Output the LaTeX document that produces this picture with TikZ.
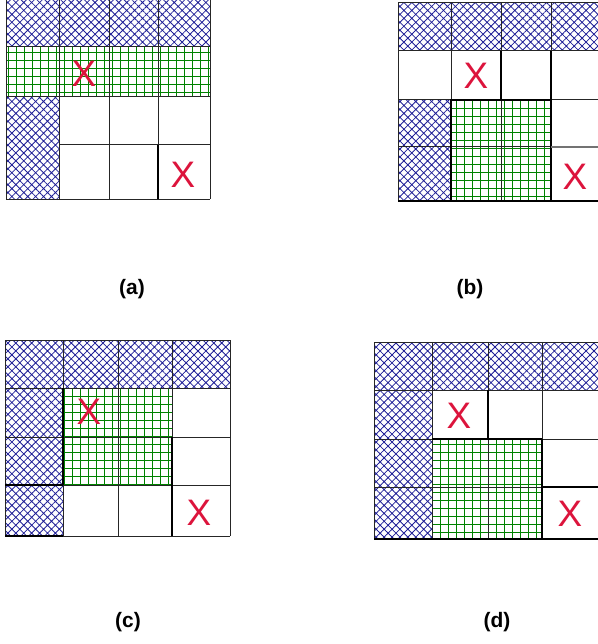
\documentclass[tikz,border=0pt]{standalone}
\usepackage{fontspec}
\setmainfont{Liberation Sans}
\usetikzlibrary{patterns.meta}
\definecolor{hatchblue}{RGB}{30,30,150}
\definecolor{gridgreen}{RGB}{0,130,0}
\definecolor{markred}{RGB}{220,20,60}
\begin{document}
\begin{tikzpicture}[x=1bp, y=-1bp,
  bluefill/.style={pattern={Hatch[angle=45,distance=5.6bp,line width=0.8bp]}, pattern color=hatchblue},
  greenfill/.style={pattern={Hatch[angle=0,distance=8bp,line width=0.8bp]}, pattern color=gridgreen},
  cell/.style={draw=black!85, line width=1bp},
  heavy/.style={draw=black, line width=1.7bp},
  xmark/.style={text=markred, font=\fontsize{37}{37}\selectfont, inner sep=0pt},
  caption/.style={font=\fontsize{21}{24}\selectfont\bfseries, inner sep=0pt}]
\useasboundingbox (0,0) rectangle (598,644);
\clip (0,0) rectangle (598,644);
% (a)
\fill[bluefill] (6,-3) rectangle (210,47) (6,97) rectangle (59,199);
\fill[greenfill] (6,47) rectangle (210,97);
\foreach \x in {6,59,109,158,210} \draw[cell] (\x,-3) -- (\x,199);
\foreach \y in {47,97,199} \draw[cell] (6,\y) -- (210,\y);
\draw[cell] (59,145) -- (210,145);
\draw[heavy] (158,145) -- (158,199);
\node[xmark] (xa1) at (84,74) {X};
\node[xmark] (xa2) at (183,175) {X};
\node[caption] (capa) at (132,289) {(a)};
% (b)
\fill[bluefill] (398,3) rectangle (601,51) (398,100) rectangle (451,201);
\fill[greenfill] (451,100) rectangle (551,201);
\foreach \x in {398,451,501,551,601} \draw[cell] (\x,3) -- (\x,201);
\foreach \y in {3,51,100,147,201} \draw[cell] (398,\y) -- (601,\y);
\draw[heavy] (451,100) rectangle (551,201);
\draw[heavy] (501,51) -- (501,100) (551,51) -- (551,201) (398,201) -- (601,201);
\draw[heavy, draw=black!55] (551,147) -- (601,147);
\node[xmark] (xb1) at (476,76) {X};
\node[xmark] (xb2) at (575,177) {X};
\node[caption] (capb) at (470,289) {(b)};
% (c)
\fill[bluefill] (5,340) rectangle (230,388) (5,388) rectangle (63,536);
\fill[greenfill] (63,388) rectangle (172,485);
\foreach \x in {5,63,118,172,230} \draw[cell] (\x,340) -- (\x,536);
\foreach \y in {340,388,437,485,536} \draw[cell] (5,\y) -- (230,\y);
\draw[heavy] (63,388) -- (63,485) (5,485) -- (63,485) (5,536) -- (63,536) (172,437) -- (172,536);
\node[xmark] (xc1) at (89,412) {X};
\node[xmark] (xc2) at (199,513) {X};
\node[caption] (capc) at (128,622) {(c)};
% (d)
\fill[bluefill] (374,342) rectangle (600,390) (374,390) rectangle (432,539);
\fill[greenfill] (432,439) rectangle (542,539);
\foreach \x in {374,432,488,542,600} \draw[cell] (\x,342) -- (\x,539);
\foreach \y in {342,390,439,487,539} \draw[cell] (374,\y) -- (600,\y);
\draw[heavy] (488,390) -- (488,439) (432,439) -- (542,439) (542,439) -- (542,539) (542,487) -- (600,487) (374,539) -- (600,539);
\node[xmark] (xd1) at (459,416) {X};
\node[xmark] (xd2) at (570,514) {X};
\node[caption] (capd) at (497,622) {(d)};
\end{tikzpicture}
\end{document}
